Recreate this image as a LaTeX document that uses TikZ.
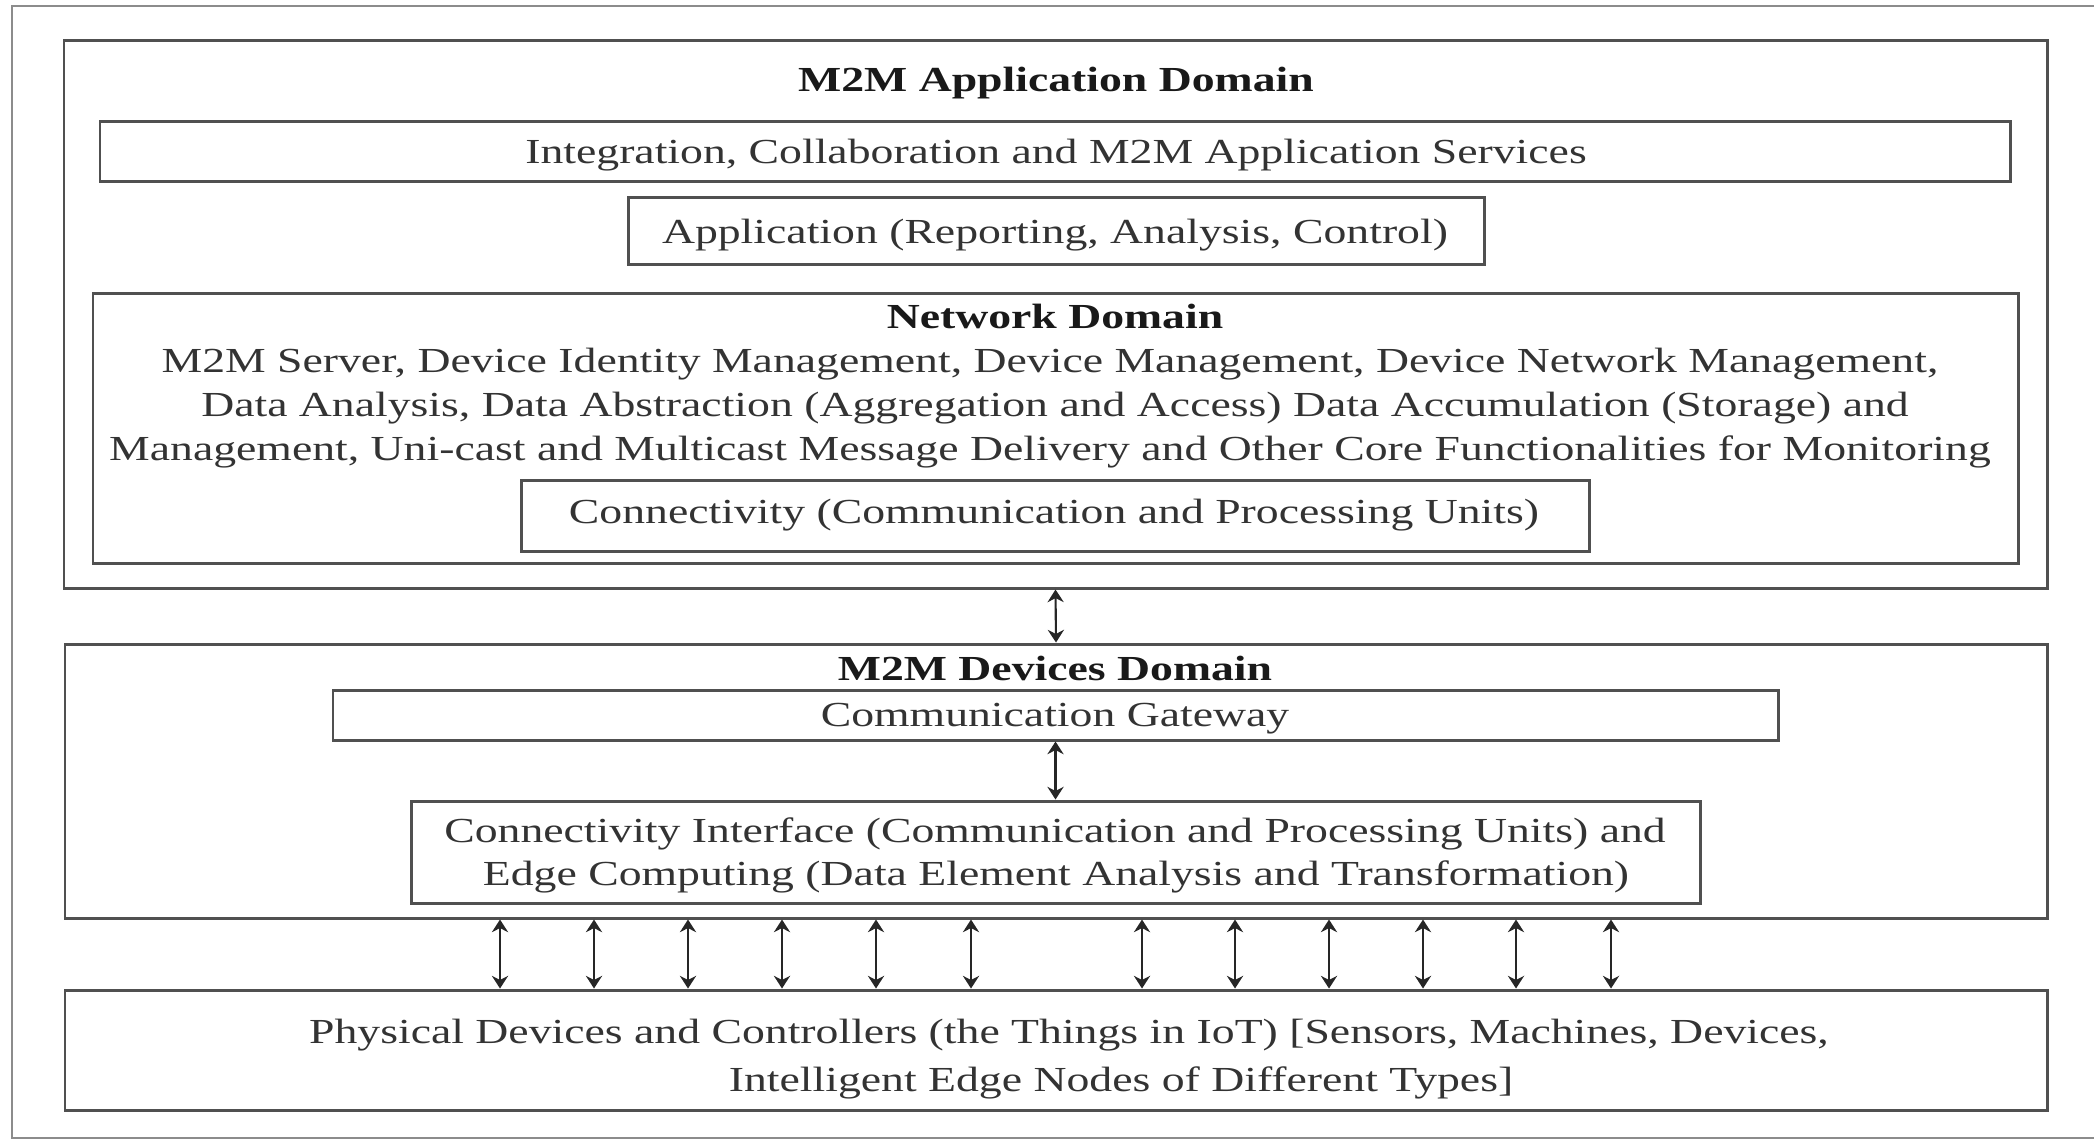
\documentclass[tikz,border=0pt]{standalone}
\usepackage{fontspec}
\setmainfont[FakeStretch=1.3]{Liberation Serif}
\usetikzlibrary{arrows.meta,fit}
\definecolor{linegray}{HTML}{505050}
\definecolor{framegray}{HTML}{8C8C8C}
\definecolor{txtgray}{HTML}{333333}
\begin{document}
\begin{tikzpicture}[x=0.01cm,y=-0.01cm,
  box/.style={draw=linegray, line width=0.85pt, inner sep=0pt},
  lbl/.style={inner sep=0pt, text=txtgray, font=\fontsize{10}{12.5}\selectfont, anchor=base},
  ttl/.style={inner sep=0pt, text=black!90, font=\fontsize{10}{12.5}\selectfont\bfseries, anchor=base},
  arr/.style={draw=black!85, line width=0.6pt, {Stealth[length=3.6pt,width=4.6pt]}-{Stealth[length=3.6pt,width=4.6pt]}},
  frame/.style={draw=framegray, line width=0.8pt}]
\useasboundingbox (0,0) rectangle (2094,1141);
\fill[white] (0,0) rectangle (2094,1141);
% outer frame (three visible sides)
\draw[frame] (2094,6) -- (12,6) -- (12,1138) -- (2094,1138);

% application domain
\node[box, fit={(64,40) (2047,588)}] (appdom) {};
\node[ttl] (apptitle) at (1056,91) {M2M Application Domain};
\node[box, fit={(100,121) (2010,181)}] (integ) {};
\node[lbl] (integtxt) at (1056,163) {Integration, Collaboration and M2M Application Services};
\node[box, fit={(628,197) (1484,264)}] (appl) {};
\node[lbl] (appltxt) at (1055,243) {Application (Reporting, Analysis, Control)};

% network domain
\node[box, fit={(93,293) (2018,563)}] (netdom) {};
\node[ttl] (nettitle) at (1055,328) {Network Domain};
\node[lbl] (net1) at (1050,372) {M2M Server, Device Identity Management, Device Management, Device Network Management,};
\node[lbl] (net2) at (1055,416) {Data Analysis, Data Abstraction (Aggregation and Access) Data Accumulation (Storage) and};
\node[lbl] (net3) at (1050,460) {Management, Uni-cast and Multicast Message Delivery and Other Core Functionalities for Monitoring};
\node[box, fit={(521,480) (1589,551)}] (conn) {};
\node[lbl] (conntxt) at (1054,523) {Connectivity (Communication and Processing Units)};

% devices domain
\node[box, fit={(65,644) (2047,918)}] (devdom) {};
\node[ttl] (devtitle) at (1055,680) {M2M Devices Domain};
\node[box, fit={(333,690) (1778,740)}] (gate) {};
\node[lbl] (gatetxt) at (1055,726) {Communication Gateway};
\node[box, fit={(411,801) (1700,903)}] (cif) {};
\node[lbl] (cif1) at (1055,842) {Connectivity Interface (Communication and Processing Units) and};
\node[lbl] (cif2) at (1056,885) {Edge Computing (Data Element Analysis and Transformation)};

% physical devices
\node[box, fit={(65,990) (2047,1110)}] (phys) {};
\node[lbl] (phys1) at (1069,1043) {Physical Devices and Controllers (the Things in IoT) [Sensors, Machines, Devices,};
\node[lbl] (phys2) at (1121,1091) {Intelligent Edge Nodes of Different Types]};

% connectors
\draw[arr] (appdom.south) -- (devdom.north);
\draw[arr] (gate.south) -- (cif.north);
\foreach \i/\xx in {1/500,2/594,3/688,4/782,5/876,6/971,7/1142,8/1235,9/1329,10/1423,11/1516,12/1611}{
  \coordinate (ax\i) at (\xx,0);
  \draw[arr] (ax\i |- devdom.south) -- (ax\i |- phys.north);
}
\end{tikzpicture}
\end{document}
